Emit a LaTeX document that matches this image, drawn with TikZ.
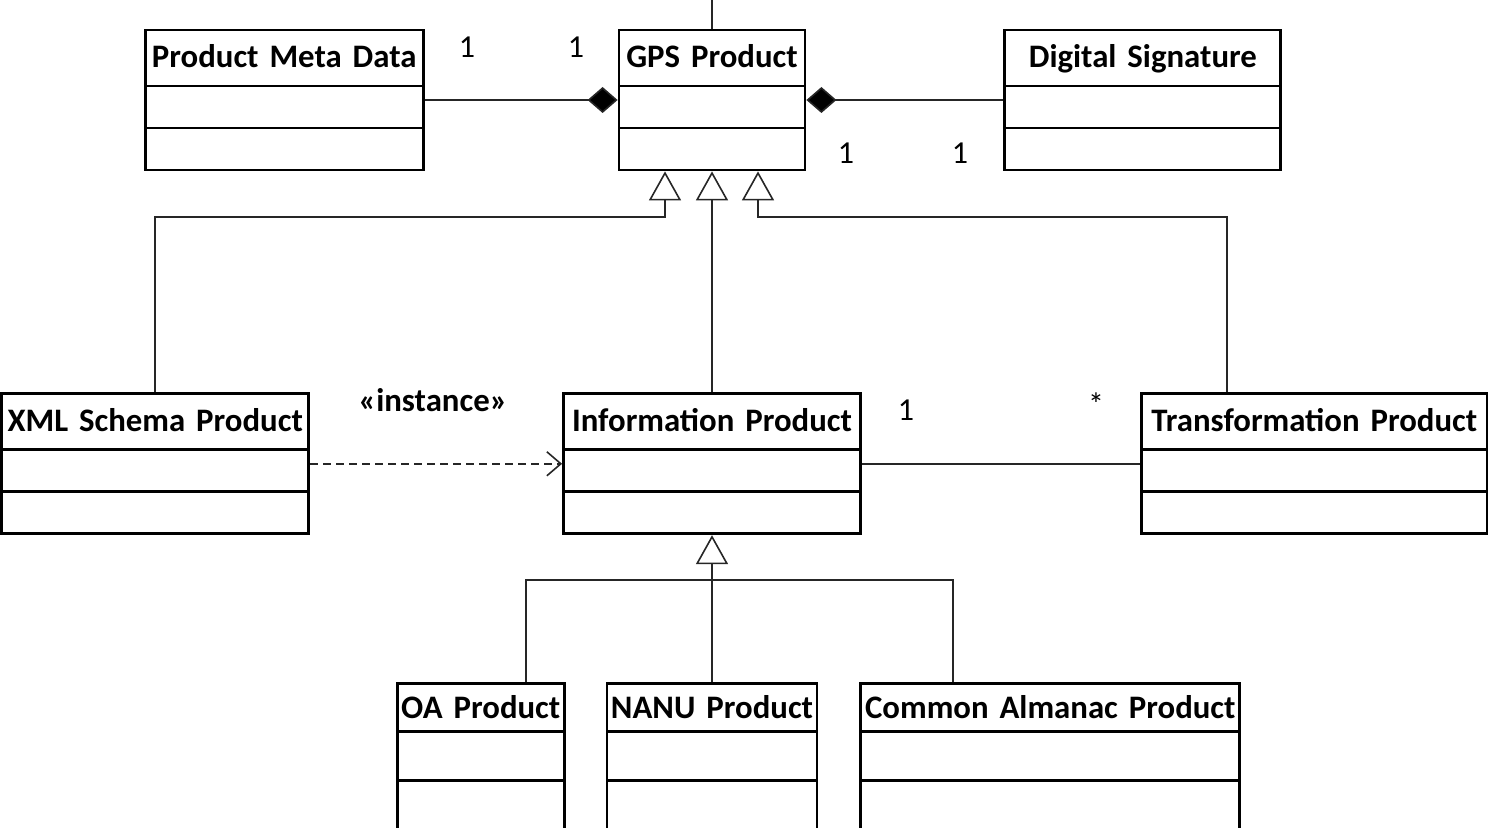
\documentclass[tikz,border=0pt]{standalone}
\usepackage{fontspec}
\setmainfont{Carlito}
\usetikzlibrary{arrows.meta}
\usetikzlibrary{positioning}
\usetikzlibrary{shapes.multipart}

% title, depth of title strut, title height, compartment height
\newcommand{\clsparts}[4]{\centering\rule[-#2]{0pt}{#3}#1\nodepart{two}\rule{0pt}{#4}\nodepart{three}\rule{0pt}{#4}}

\begin{document}
\begin{tikzpicture}[
				x=0.5pt, y=-0.5pt,
				line width=0.8pt,
				node distance=20pt,
				umlclass/.style={draw, line width=1.4pt, rectangle split, rectangle split parts=3,
					inner sep=0pt, text width=#1, align=center, font=\fontsize{16.4}{20}\selectfont\bfseries},
				mult/.style={font=\fontsize{16}{18}\selectfont},
				conn/.style={line width=0.8pt, draw=black!85},
				comp/.style={conn, -{Diamond[length=15pt, width=13pt, fill=black]}},
				gen/.style={conn, -{Triangle[open, length=14.5pt, width=16pt, fill=white]}},
				dep/.style={conn, dash pattern=on 4pt off 2.5pt, -{Straight Barb[length=7pt, width=12pt]}},
			]
				\useasboundingbox (0,0) rectangle (1488,828);

				\node (gps) [umlclass=93pt] at (712,100) {\clsparts{GPS Product}{8.6pt}{26.6pt}{19.6pt}};
				\node (meta) [umlclass=139pt, left=96.5pt of gps] {\clsparts{Product Meta Data}{8.6pt}{26.6pt}{19.6pt}};
				\node (sig) [umlclass=138pt, right=98.5pt of gps] {\clsparts{Digital Signature}{8.6pt}{26.6pt}{19.6pt}};

				\node (info) [umlclass=148.5pt, below=110.5pt of gps] {\clsparts{Information Product}{8.6pt}{26.6pt}{19.6pt}};
				\node (xml) [umlclass=153.5pt, left=126pt of info] {\clsparts{XML Schema Product}{8.6pt}{26.6pt}{19.6pt}};
				\node (trans) [umlclass=173pt, right=139pt of info] {\clsparts{Transformation Product}{8.6pt}{26.6pt}{19.6pt}};

				\node (nanu) [umlclass=105pt, below=73.5pt of info] {\clsparts{NANU Product}{6.1pt}{22.6pt}{23.1pt}};
				\node (oa) [umlclass=83.5pt, left=20pt of nanu] {\clsparts{OA Product}{6.1pt}{22.6pt}{23.1pt}};
				\node (cap) [umlclass=189.5pt, right=20.5pt of nanu] {\clsparts{Common Almanac Product}{6.1pt}{22.6pt}{23.1pt}};

				% multiplicities and stereotype
				\node (m1) [mult] at (467,47) {1};
				\node (m2) [mult] at (576,47) {1};
				\node (s1) [mult] at (846,153) {1};
				\node (s2) [mult] at (960,153) {1};
				\node (a1) [mult] at (906,410) {1};
				\node (a2) [mult] at (1096,404) {*};
				\node (inst) [font=\fontsize{16.4}{20}\selectfont\bfseries] at (433,400) {«instance»};

				\coordinate (top) at (712,0);
				\coordinate (bl) at (665,217);
				\coordinate (bm) at (758,217);
				\coordinate (br) at (1227,217);
				\coordinate (jl) at (526,580);
				\coordinate (jr) at (953,580);

				\draw[conn] (gps.north) -- (top);
				\draw[comp] (meta.east) -- (gps.west);
				\draw[comp] (sig.west) -- (gps.east);

				\draw[gen] (xml.north) |- (bl) -- (bl |- gps.south);
				\draw[gen] (info.north) -- (info.north |- gps.south);
				\draw[gen] (br |- trans.north) -- (br) -- (bm) -- (bm |- gps.south);

				\draw[dep] (xml.east) -- (info.west);
				\draw[conn] (info.east) -- (trans.west);

				\draw[gen] (nanu.north) -- (nanu.north |- info.south);
				\draw[conn] (jl |- oa.north) -- (jl) -- (jr) -- (jr |- cap.north);
			\end{tikzpicture}
\end{document}
